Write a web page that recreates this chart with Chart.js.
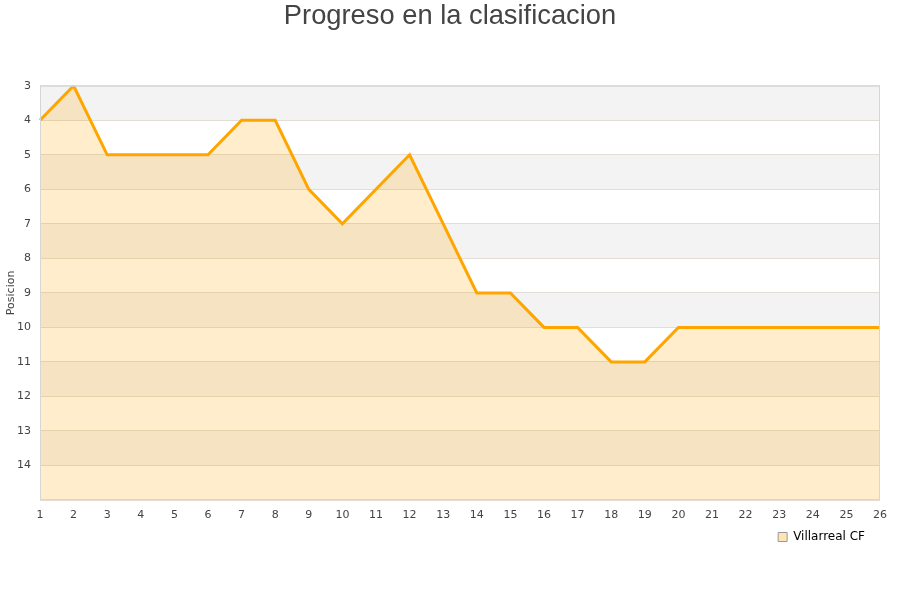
<!DOCTYPE html>
<html>
<head>
<meta charset="utf-8">
<script src="https://cdn.jsdelivr.net/npm/chart.js@4"></script>
<style>
  body { margin: 0; background: #fff; }
  #wrap { width: 900px; height: 600px; }
</style>
</head>
<body>
<div id="wrap"><canvas id="clasif"></canvas></div>
<script>
// jornadas y posiciones
var jornadas = ["1","2","3","4","5","6","7","8","9","10","11","12","13","14","15","16","17","18","19","20","21","22","23","24","25","26"];
var posiciones = [4, 3, 5, 5, 5, 5, 4, 4, 6, 7, 6, 5, 7, 9, 9, 10, 10, 11, 11, 10, 10, 10, 10, 10, 10, 10];
var posTicks = [3, 4, 5, 6, 7, 8, 9, 10, 11, 12, 13, 14];

// franjas grises alternas detras de la grafica
var bandas = {
  id: 'bandas',
  beforeDraw: function(chart) {
    var ctx = chart.ctx, a = chart.chartArea, y = chart.scales.y;
    ctx.save();
    for (var v = 3; v < 15; v += 2) {
      var t = y.getPixelForValue(v), b = y.getPixelForValue(v + 1);
      ctx.fillStyle = '#f3f3f3';
      ctx.fillRect(a.left, t, a.right - a.left, b - t);
    }
    ctx.restore();
  },
  afterDatasetsDraw: function(chart) {
    var ctx = chart.ctx, a = chart.chartArea;
    ctx.save();
    ctx.strokeStyle = '#d6d6d6';
    ctx.lineWidth = 1;
    ctx.strokeRect(a.left + 0.5, a.top + 0.5, a.right - a.left - 1, a.bottom - a.top - 1);
    ctx.restore();
  }
};

var el = document.getElementById("clasif");
var chart = new Chart(el, {
  type: 'line',
  data: {
    labels: jornadas,
    datasets: [{
      label: 'Villarreal CF',
      data: posiciones,
      borderColor: '#ffa500',
      backgroundColor: 'rgba(255,165,0,0.2)',
      borderWidth: 3,
      pointRadius: 0,
      lineTension: 0,
      fill: { value: 15 }
    }]
  },
  options: {
    responsive: true,
    maintainAspectRatio: false,
    animation: false,
    layout: { padding: { left: 0, right: 0, top: 0, bottom: 47 } },
    plugins: {
      title: {
        display: true,
        text: 'Progreso en la clasificacion',
        color: '#444',
        font: { family: 'Liberation Sans', size: 27.3, weight: 'normal' },
        padding: { top: 0, bottom: 53 }
      },
      legend: {
        position: 'bottom',
        align: 'end',
        labels: {
          boxWidth: 9,
          boxHeight: 9,
          color: '#222',
          font: { family: 'DejaVu Sans', size: 12 },
          generateLabels: function(c) {
            return [
              { text: 'Villarreal CF', fillStyle: '#ffe5b5', strokeStyle: '#999', lineWidth: 1, datasetIndex: 0 },
              // hueco a la derecha
              { text: '', fillStyle: 'rgba(0,0,0,0)', strokeStyle: 'rgba(0,0,0,0)', lineWidth: 0, datasetIndex: 1 }
            ];
          }
        }
      },
      tooltip: { enabled: false }
    },
    scales: {
      x: {
        offset: false,
        grid: { display: false, drawTicks: false },
        border: { display: false },
        afterFit: function(s) { s.height = 21; },
        ticks: { color: '#444', font: { family: 'DejaVu Sans', size: 11 }, maxRotation: 0, autoSkip: false, padding: 9 }
      },
      y: {
        reverse: true,
        min: 3,
        max: 15,
        afterBuildTicks: function(s) {
          s.ticks = posTicks.concat([15]).map(function(v) { return { value: v }; });
        },
        afterFit: function(s) { s.width = 40; },
        grid: { color: '#e2ddd5', drawTicks: false },
        border: { display: false },
        title: { display: true, text: 'Posicion', color: '#444', font: { family: 'DejaVu Sans', size: 11 }, padding: { top: 5, bottom: 0 } },
        ticks: {
          color: '#444',
          font: { family: 'DejaVu Sans', size: 11 },
          padding: 9,
          callback: function(v) { return v === 15 ? '' : v; }
        }
      },
      derecha: {
        position: 'right',
        display: true,
        grid: { display: false, drawTicks: false },
        border: { display: false },
        ticks: { display: false },
        afterFit: function(s) { s.width = 20; }
      }
    }
  },
  plugins: [bandas]
});
</script>
</body>
</html>
